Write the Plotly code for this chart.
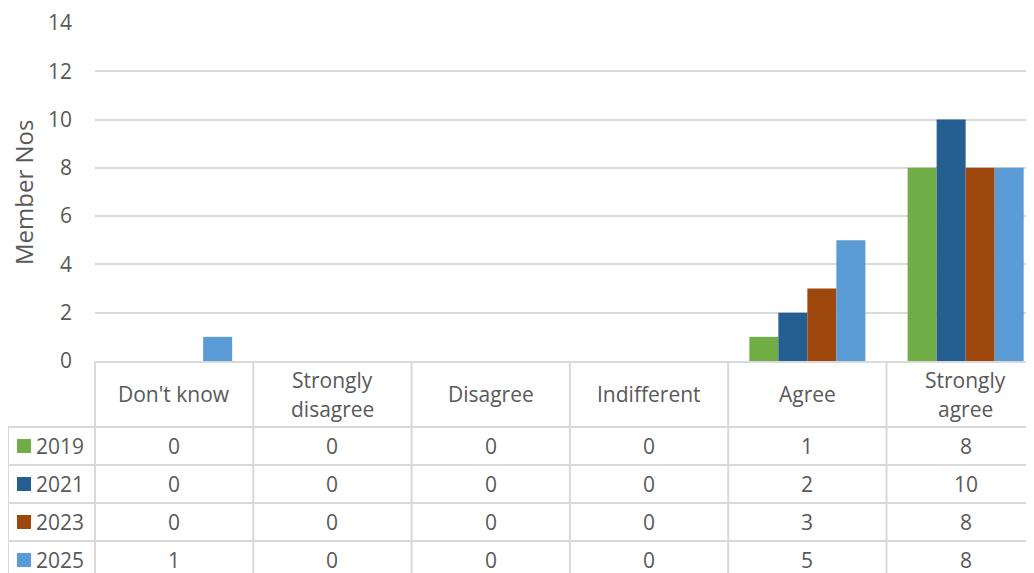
import plotly.graph_objects as go

# survey answers, one list per year
categories = ["Don't know", "Strongly disagree", "Disagree", "Indifferent", "Agree", "Strongly agree"]
header_lines = [["Don't know"], ["Strongly", "disagree"], ["Disagree"], ["Indifferent"], ["Agree"], ["Strongly", "agree"]]
years = ["2019", "2021", "2023", "2025"]
counts_2019 = [0, 0, 0, 0, 1, 8]
counts_2021 = [0, 0, 0, 0, 2, 10]
counts_2023 = [0, 0, 0, 0, 3, 8]
counts_2025 = [1, 0, 0, 0, 5, 8]
colors = ["#70AD47", "#255E91", "#9E480E", "#5B9BD5"]

series = [counts_2019, counts_2021, counts_2023, counts_2025]

# page pixels of the target picture; the browser body adds an 8px margin
PAGE_W, PAGE_H = 1034, 573
OFF = 8
W, H = PAGE_W, PAGE_H - OFF   # figure runs a little past the right edge, like the reference
L, T = 95 - OFF, 23 - OFF
ZERO_PX = 361      # page row of the value axis baseline / table top
COL_W = 158.3      # width of one category column
HEADER_H = 66
ROW_H = 38
FONT = "Open Sans"
FS = 21
TEXT = "#595959"
GRID = "#D9D9D9"


def px_x(px):
    return (px - OFF - L) / (W - L)


def px_y(py):
    return (H - (py - OFF)) / (H - T)


fig = go.Figure()

for year, vals, col in zip(years, series, colors):
    fig.add_trace(go.Bar(x=categories, y=vals, name=year, marker_color=col,
                         marker_line_width=0, showlegend=False))

annotations = []
shapes = []
font = dict(family=FONT, size=FS, color=TEXT)

# header row of the data table
header_mid = ZERO_PX + HEADER_H / 2
for cat, lines in zip(categories, header_lines):
    n = len(lines)
    for k, line in enumerate(lines):
        py = header_mid + (k - (n - 1) / 2) * 29
        annotations.append(dict(x=cat, y=px_y(py), xref="x", yref="paper", text=line,
                                xanchor="center", yanchor="middle", showarrow=False, font=font))

# value rows with legend keys
for r, (year, vals, col) in enumerate(zip(years, series, colors)):
    mid = ZERO_PX + HEADER_H + ROW_H * r + ROW_H / 2
    for cat, v in zip(categories, vals):
        annotations.append(dict(x=cat, y=px_y(mid), xref="x", yref="paper", text=str(v),
                                xanchor="center", yanchor="middle", showarrow=False, font=font))
    annotations.append(dict(x=px_x(34), y=px_y(mid), xref="paper", yref="paper", text=year,
                            xanchor="left", yanchor="middle", showarrow=False, font=font))
    shapes.append(dict(type="rect", xref="paper", yref="paper", x0=px_x(17), x1=px_x(31),
                       y0=px_y(mid + 7), y1=px_y(mid - 7), fillcolor=col, line_width=0))

# table grid
bottom = px_y(PAGE_H + 10)
line = dict(color=GRID, width=2)
shapes.append(dict(type="line", xref="paper", yref="paper", x0=0, x1=0,
                   y0=px_y(ZERO_PX), y1=bottom, line=line))
for i in range(len(categories) - 1):
    shapes.append(dict(type="line", xref="x", yref="paper", x0=i + 0.5, x1=i + 0.5,
                       y0=px_y(ZERO_PX), y1=bottom, line=line))
shapes.append(dict(type="line", xref="paper", yref="paper", x0=px_x(8), x1=px_x(8),
                   y0=px_y(ZERO_PX + HEADER_H), y1=bottom, line=line))
for r in range(len(years)):
    py = ZERO_PX + HEADER_H + ROW_H * r
    shapes.append(dict(type="line", xref="paper", yref="paper", x0=px_x(8), x1=1,
                       y0=px_y(py), y1=px_y(py), line=line))

# y-axis title
annotations.append(dict(x=px_x(23), y=px_y(193), xref="paper", yref="paper",
                        text="Member Nos", textangle=-90, xanchor="center", yanchor="middle",
                        showarrow=False, font=dict(family=FONT, size=24, color=TEXT)))

n_cols = (W - L) / COL_W

fig.update_layout(
    width=W, height=H,
    margin=dict(l=L, r=0, t=T, b=0, autoexpand=False),
    paper_bgcolor="white", plot_bgcolor="white",
    barmode="group", bargap=0.267, bargroupgap=0,
    font=font,
    annotations=annotations,
    shapes=shapes,
    xaxis=dict(type="category", range=[-0.5, n_cols - 0.5], showticklabels=False, showgrid=False,
               showline=True, linecolor=GRID, linewidth=2, ticks="", fixedrange=True),
    yaxis=dict(domain=[px_y(ZERO_PX), 1], range=[0, 14], dtick=2, showgrid=True,
               gridcolor=GRID, gridwidth=1.5, zeroline=False, showline=False,
               ticks="", ticklabelstandoff=22, tickfont=font),
)

fig.write_html("out.html")
